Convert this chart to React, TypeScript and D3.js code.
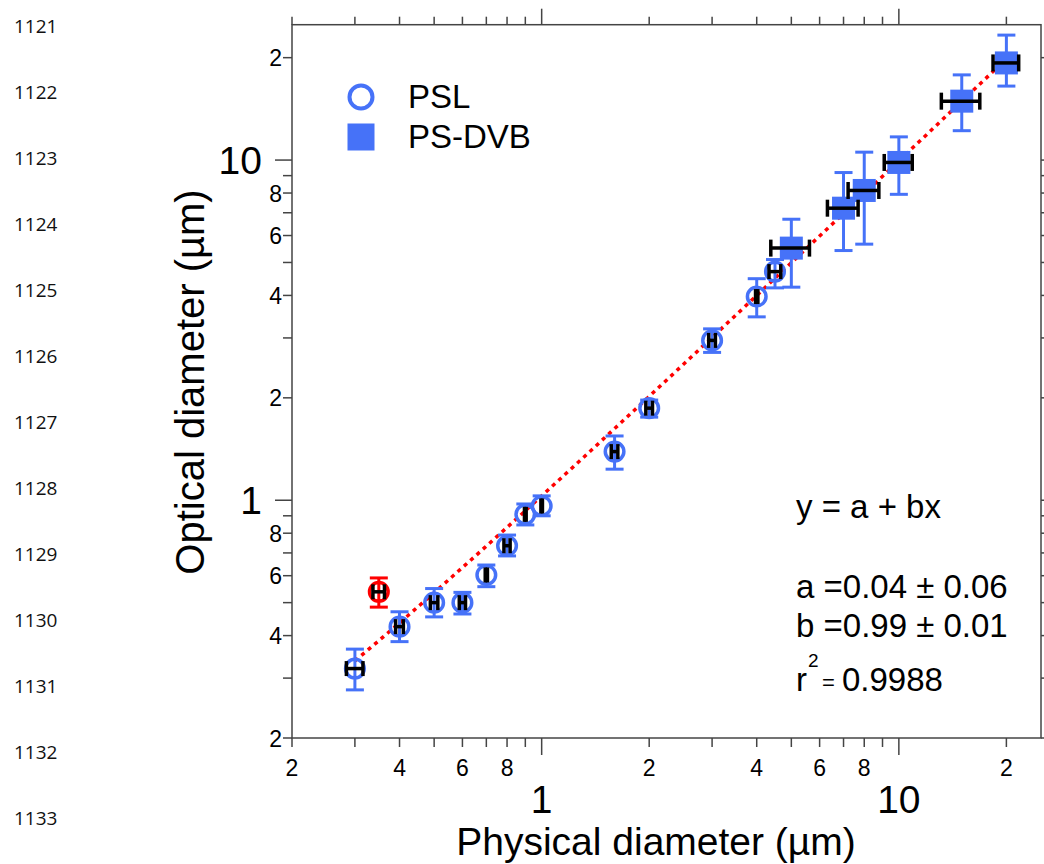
import React from "react";
import * as d3 from "d3";

// PSL spheres (open circles)
const pslPhys = [0.3, 0.4, 0.5, 0.6, 0.7, 0.8, 0.9, 1.0, 1.6, 2.0, 3.0, 4.0, 4.5];
const pslOpt = [0.32, 0.425, 0.5, 0.5, 0.603, 0.735, 0.909, 0.962, 1.39, 1.865, 2.95, 3.97, 4.7];
const pslOptPlus = [0.045, 0.045, 0.05, 0.036, 0.042, 0.055, 0.066, 0.068, 0.155, 0.105, 0.24, 0.51, 0.4];
const pslOptMinus = [0.043, 0.041, 0.046, 0.037, 0.046, 0.049, 0.063, 0.062, 0.156, 0.11, 0.23, 0.51, 0.49];
const pslPhysErr = [0.016, 0.01, 0.012, 0.012, 0.005, 0.016, 0.005, 0.005, 0.034, 0.043, 0.065, 0.03, 0.17];

// outlier (red, excluded from fit)
const outPhys = [0.35];
const outOpt = [0.538];
const outOptErr = [0.053];
const outPhysErr = [0.013];

// PS-DVB spheres (filled squares)
const dvbPhys = [5, 7, 8, 10, 15, 20];
const dvbOpt = [5.51, 7.22, 8.14, 9.84, 14.9, 19.3];
const dvbOptPlus = [1.19, 1.97, 2.41, 1.86, 2.9, 4.0];
const dvbOptMinus = [1.28, 1.8, 2.48, 1.91, 2.7, 2.8];
const dvbPhysErr = [0.62, 0.69, 0.79, 0.9, 1.85, 1.65];

// fit y = a + bx
const fitA = 0.04;
const fitB = 0.99;
const fitRange = [0.3, 20];

const tickVals = [0.2, 0.3, 0.4, 0.5, 0.6, 0.7, 0.8, 0.9, 1, 2, 3, 4, 5, 6, 7, 8, 9, 10, 20];
const majorVals = [1, 10];
const majorText = ["1", "10"];
const minorLabelVals = [0.2, 0.4, 0.6, 0.8, 2, 4, 6, 8, 20];
const minorLabelText = ["2", "4", "6", "8", "2", "4", "6", "8", "2"];

const lineNumbers = ["1121", "1122", "1123", "1124", "1125", "1126", "1127", "1128", "1129", "1130", "1131", "1132", "1133"];

const BLUE = "#4672f8";
const RED = "#ff0000";
const AXIS = "#444";
const FONT = "'Liberation Sans', Arial, sans-serif";

export default function App() {
  const W = 1044, H = 864;
  const left = 292, right = 1041, top = 24.7, bottom = 738;

  const x = d3.scaleLog().domain([0.2, 25]).range([left, right]);
  const y = d3.scaleLog().domain([0.2, 25]).range([bottom, top]);

  const fitPts = d3.range(0, 61).map((i) => {
    const xv = fitRange[0] * Math.pow(fitRange[1] / fitRange[0], i / 60);
    return [xv, fitA + fitB * xv] as [number, number];
  });
  const fitLine = d3.line<[number, number]>()
    .x((d) => x(d[0]))
    .y((d) => y(d[1]));

  const isMajor = (v: number) => majorVals.includes(v);

  const yBar = (xv: number, yv: number, lo: number, hi: number, color: string, key: string) => {
    const cx = x(xv);
    const y1 = y(yv + hi), y2 = y(yv - lo);
    return (
      <g key={key} stroke={color} strokeWidth={3}>
        <line x1={cx} x2={cx} y1={y1} y2={y2} />
        <line x1={cx - 9} x2={cx + 9} y1={y1} y2={y1} />
        <line x1={cx - 9} x2={cx + 9} y1={y2} y2={y2} />
      </g>
    );
  };

  const xBar = (xv: number, yv: number, e: number, capH: number, key: string) => {
    const cy = y(yv);
    const x1 = x(xv - e), x2 = x(xv + e);
    return (
      <g key={key} stroke="#000" strokeWidth={3.5}>
        <line x1={x1} x2={x2} y1={cy} y2={cy} />
        <line x1={x1} x2={x1} y1={cy - capH / 2} y2={cy + capH / 2} />
        <line x1={x2} x2={x2} y1={cy - capH / 2} y2={cy + capH / 2} />
      </g>
    );
  };

  return (
    <svg width={W} height={H} style={{ position: "absolute", left: 0, top: 0, background: "#fff" }}
      fontFamily={FONT}>
      {/* line numbers of the manuscript */}
      {lineNumbers.map((t, i) => (
        <text key={t} x={14} y={33 + i * 66} fontSize={19} fill="#111"
          fontFamily="'Open Sans', sans-serif">{t}</text>
      ))}

      {/* frame */}
      <rect x={left} y={top} width={right - left} height={bottom - top} fill="none" stroke={AXIS} strokeWidth={1.5} />

      {/* ticks on all 4 sides, outward */}
      {tickVals.map((v) => {
        const px = x(v), py = y(v);
        const len = isMajor(v) ? 17 : 9;
        return (
          <g key={"t" + v} stroke={AXIS} strokeWidth={1.5}>
            <line x1={px} x2={px} y1={bottom} y2={bottom + len} />
            <line x1={px} x2={px} y1={top} y2={top - (isMajor(v) ? 16 : 8)} />
            <line x1={left} x2={left - len} y1={py} y2={py} />
            <line x1={right} x2={right + len} y1={py} y2={py} />
          </g>
        );
      })}

      {/* minor labels */}
      {minorLabelVals.map((v, i) => (
        <g key={"ml" + i} fontSize={23} fill="#000">
          <text x={x(v)} y={776} textAnchor="middle">{minorLabelText[i]}</text>
          <text x={282} y={y(v) + 8.5} textAnchor="end">{minorLabelText[i]}</text>
        </g>
      ))}
      {/* major labels */}
      {majorVals.map((v, i) => (
        <g key={"mj" + i} fontSize={39} fill="#000">
          <text x={x(v)} y={813} textAnchor="middle">{majorText[i]}</text>
          <text x={262} y={y(v) + 14} textAnchor="end">{majorText[i]}</text>
        </g>
      ))}

      {/* axis titles */}
      <text x={656} y={855} fontSize={39} textAnchor="middle" fill="#000">Physical diameter (µm)</text>
      <text transform="translate(204,382) rotate(-90)" fontSize={40} textAnchor="middle" fill="#000">
        Optical diameter (µm)
      </text>

      {/* fit line */}
      <path d={fitLine(fitPts) || ""} fill="none" stroke={RED} strokeWidth={3.5} strokeDasharray="4 4.5" />

      {/* y error bars */}
      {pslPhys.map((v, i) => yBar(v, pslOpt[i], pslOptMinus[i], pslOptPlus[i], BLUE, "pye" + i))}
      {outPhys.map((v, i) => yBar(v, outOpt[i], outOptErr[i], outOptErr[i], RED, "oye" + i))}

      {/* markers */}
      {pslPhys.map((v, i) => (
        <circle key={"pc" + i} cx={x(v)} cy={y(pslOpt[i])} r={9.3} fill="none" stroke={BLUE} strokeWidth={3.5} />
      ))}
      {outPhys.map((v, i) => (
        <circle key={"oc" + i} cx={x(v)} cy={y(outOpt[i])} r={9.3} fill="none" stroke={RED} strokeWidth={3.5} />
      ))}
      {dvbPhys.map((v, i) => yBar(v, dvbOpt[i], dvbOptMinus[i], dvbOptPlus[i], BLUE, "dye" + i))}
      {dvbPhys.map((v, i) => (
        <rect key={"ds" + i} x={x(v) - 11.5} y={y(dvbOpt[i]) - 11.5} width={23} height={23} fill={BLUE} />
      ))}

      {/* x error bars */}
      {pslPhys.map((v, i) => xBar(v, pslOpt[i], pslPhysErr[i], 15, "pxe" + i))}
      {outPhys.map((v, i) => xBar(v, outOpt[i], outPhysErr[i], 15, "oxe" + i))}
      {dvbPhys.map((v, i) => xBar(v, dvbOpt[i], dvbPhysErr[i], 17, "dxe" + i))}

      {/* legend */}
      <circle cx={361} cy={97} r={11.5} fill="none" stroke={BLUE} strokeWidth={4} />
      <rect x={347.5} y={123.5} width={27} height={27} fill={BLUE} />
      <text x={408} y={108} fontSize={33} fill="#000">PSL</text>
      <text x={408} y={148} fontSize={33} fill="#000">PS-DVB</text>

      {/* fit annotation */}
      <g fontSize={33} fill="#000">
        <text x={796} y={518}>y = a + bx</text>
        <text x={796} y={598}>a =0.04 ± 0.06</text>
        <text x={796} y={637}>b =0.99 ± 0.01</text>
        <text x={796} y={691}>r</text>
        <text x={808} y={667} fontSize={19}>2</text>
        <text x={822} y={690} fontSize={22}>=</text>
        <text x={842} y={691}>0.9988</text>
      </g>
    </svg>
  );
}
